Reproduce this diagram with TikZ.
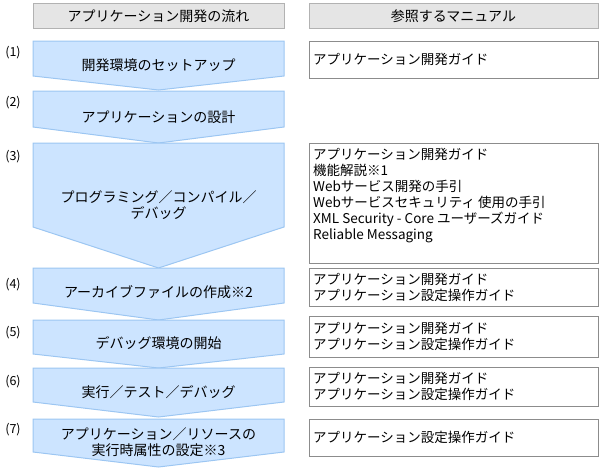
\documentclass[tikz,border=0pt]{standalone}
\usepackage{fontspec}
\setmainfont{Noto Sans CJK JP}
\begin{document}
\begin{tikzpicture}[x=1pt,y=-1pt,
  hdr/.style={draw=black!30,fill=black!10,line width=1pt},
  chev/.style={draw=chevline,fill=chevfill,line width=1pt},
  refbox/.style={draw=black!45,fill=white,line width=1pt},
  txt/.style={inner sep=0pt,font=\fontsize{14}{16}\selectfont,align=center},
  ltxt/.style={inner sep=0pt,font=\fontsize{13.5}{16}\selectfont,anchor=west,align=left},
  num/.style={inner sep=0pt,font=\fontsize{12.5}{14}\selectfont}]
\definecolor{chevfill}{HTML}{CCE4FF}
\definecolor{chevline}{HTML}{9CC6F2}
\useasboundingbox (0,0) rectangle (604,471);
% headers
\draw[hdr] (33,3) rectangle (284,28);
\draw[hdr] (309,3) rectangle (598,28);
\node[txt] (h1) at (158.5,16) {アプリケーション開発の流れ};
\node[txt] (h2) at (453.5,16) {参照するマニュアル};
% chevrons
\newcommand\mychev[3]{\draw[chev] (33,#1) -- (284,#1) -- (284,#2) -- (158.5,#3) -- (33,#2) -- cycle;}
\mychev{41}{76}{90}
\mychev{91}{127}{143}
\mychev{143}{227}{268}
\mychev{268}{303}{320}
\mychev{320}{354}{368}
\mychev{368}{402}{417}
\mychev{419}{452}{467}
\node[txt] (c1) at (158.5,65) {開発環境のセットアップ};
\node[txt] (c2) at (158.5,117) {アプリケーションの設計};
\node[txt] (c3) at (158.5,205) {プログラミング／コンパイル／\\デバッグ};
\node[txt] (c4) at (158.5,292) {アーカイブファイルの作成※2};
\node[txt] (c5) at (158.5,343) {デバッグ環境の開始};
\node[txt] (c6) at (158.5,392) {実行／テスト／デバッグ};
\node[txt] (c7) at (158.5,442) {アプリケーション／リソースの\\実行時属性の設定※3};
% numbers
\node[num] (n1) at (13,53) {(1)};
\node[num] (n2) at (13,103) {(2)};
\node[num] (n3) at (13,157) {(3)};
\node[num] (n4) at (13,285) {(4)};
\node[num] (n5) at (13,333) {(5)};
\node[num] (n6) at (13,382) {(6)};
\node[num] (n7) at (13,430) {(7)};
% reference boxes
\draw[refbox] (309,41) rectangle (598,78);
\node[ltxt] (r1) at (313,59) {アプリケーション開発ガイド};
\draw[refbox] (309,143) rectangle (598,263);
\node[ltxt,anchor=north west] (r3) at (313,148) {アプリケーション開発ガイド\\機能解説※1\\Webサービス開発の手引\\Webサービスセキュリティ 使用の手引\\XML Security - Core ユーザーズガイド\\Reliable Messaging};
\draw[refbox] (309,268) rectangle (598,306);
\node[ltxt] (r4) at (313,287) {アプリケーション開発ガイド\\アプリケーション設定操作ガイド};
\draw[refbox] (309,316) rectangle (598,357);
\node[ltxt] (r5) at (313,336) {アプリケーション開発ガイド\\アプリケーション設定操作ガイド};
\draw[refbox] (309,367) rectangle (598,406);
\node[ltxt] (r6) at (313,386) {アプリケーション開発ガイド\\アプリケーション設定操作ガイド};
\draw[refbox] (309,419) rectangle (598,456);
\node[ltxt] (r7) at (313,437) {アプリケーション設定操作ガイド};
\end{tikzpicture}
\end{document}
